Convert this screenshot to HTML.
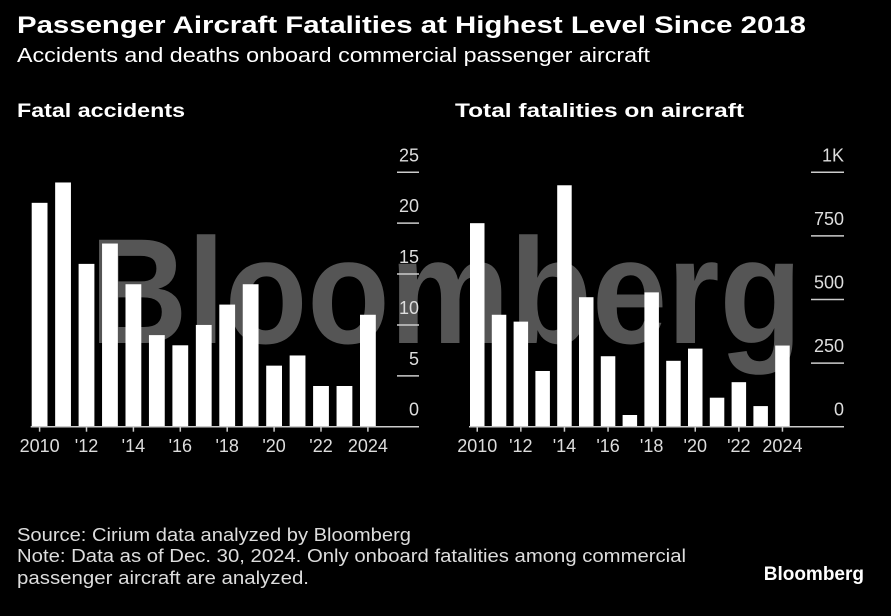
<!DOCTYPE html>
<html><head><meta charset="utf-8"><style>
body{margin:0;width:891px;height:616px;background:#000;overflow:hidden;font-family:"Liberation Sans",sans-serif;}
</style></head><body>
<svg width="891" height="616" style="position:absolute;left:0;top:0">
<text x="17" y="33" fill="#fff" font-size="24" font-weight="bold" textLength="789" lengthAdjust="spacingAndGlyphs">Passenger Aircraft Fatalities at Highest Level Since 2018</text>
<text x="17" y="62" fill="#fff" font-size="20" textLength="633" lengthAdjust="spacingAndGlyphs">Accidents and deaths onboard commercial passenger aircraft</text>
<text x="17" y="117" fill="#fff" font-size="19" font-weight="bold" textLength="168" lengthAdjust="spacingAndGlyphs">Fatal accidents</text>
<text x="455" y="117" fill="#fff" font-size="19" font-weight="bold" textLength="289" lengthAdjust="spacingAndGlyphs">Total fatalities on aircraft</text>
<text x="90" y="343" fill="#555" font-size="150" font-weight="bold" textLength="712" lengthAdjust="spacingAndGlyphs">Bloomberg</text>
<g id="left"></g><g id="right"></g>
<text x="17" y="541" fill="#ddd" font-size="18" textLength="394" lengthAdjust="spacingAndGlyphs">Source: Cirium data analyzed by Bloomberg</text>
<text x="17" y="562" fill="#ddd" font-size="18" textLength="669" lengthAdjust="spacingAndGlyphs">Note: Data as of Dec. 30, 2024. Only onboard fatalities among commercial</text>
<text x="17" y="584" fill="#ddd" font-size="18" textLength="292" lengthAdjust="spacingAndGlyphs">passenger aircraft are analyzed.</text>
<text x="864" y="580" fill="#fff" font-size="19" font-weight="bold" text-anchor="end">Bloomberg</text>
</svg>
<script>
const years=[2010,2011,2012,2013,2014,2015,2016,2017,2018,2019,2020,2021,2022,2023,2024];
const xLabels=["2010","","'12","","'14","","'16","","'18","","'20","","'22","","2024"];
const accidents=[22,24,16,18,14,9,8,10,12,14,6,7,4,4,11];
const fatalities=[800,440,413,219,949,509,277,46,528,259,307,114,175,81,319];
const accTicks=[0,5,10,15,20,25];
const accTickLabels=["0","5","10","15","20","25"];
const fatTicks=[0,250,500,750,1000];
const fatTickLabels=["0","250","500","750","1K"];
const NS="http://www.w3.org/2000/svg";
function mk(p,tag,a){const e=document.createElementNS(NS,tag);for(const k in a)e.setAttribute(k,a[k]);p.appendChild(e);return e;}
function panel(g,vals,ticks,labels,max,x0,pitch,bw,tickX1,tickX2,prefix){
  const base=426.7,top=172.3;
  const y=v=>base-(v/max)*(base-top);
  const x=i=>x0+i*pitch;
  vals.forEach((v,i)=>{
    const r=mk(g,'rect',{x:x(i),y:y(v),width:bw,height:base-y(v),fill:'#fff'});
    
    
  });
  const bl=mk(g,'line',{x1:x0-1,x2:tickX2,y1:base,y2:base,stroke:'#ccc','stroke-width':1.5});
  
  
  ticks.forEach((t,i)=>{
    const l=mk(g,'line',{x1:tickX1,x2:tickX2,y1:y(t),y2:y(t),stroke:'#ccc','stroke-width':1.5});
    
    
    const tx=mk(g,'text',{x:tickX2,y:y(t)-11,fill:'#ddd','font-size':18,'text-anchor':'end'});
    tx.textContent=labels[i];
    
    
  });
  xLabels.forEach((s,i)=>{
    if(!s)return;
    const cx=x(i)+bw/2;
    const tk=mk(g,'line',{x1:cx,x2:cx,y1:base,y2:base+5,stroke:'#ccc','stroke-width':1.5});
    
    
    const tx=mk(g,'text',{x:cx,y:452,fill:'#ddd','font-size':18,'text-anchor':'middle'});
    tx.textContent=s;
    
    
  });
}
panel(document.getElementById('left'),accidents,accTicks,accTickLabels,25,31.7,23.45,15.8,397,419,'accidents');
panel(document.getElementById('right'),fatalities,fatTicks,fatTickLabels,1000,470,21.8,14.5,811,844,'fatalities');
</script>
</body></html>
